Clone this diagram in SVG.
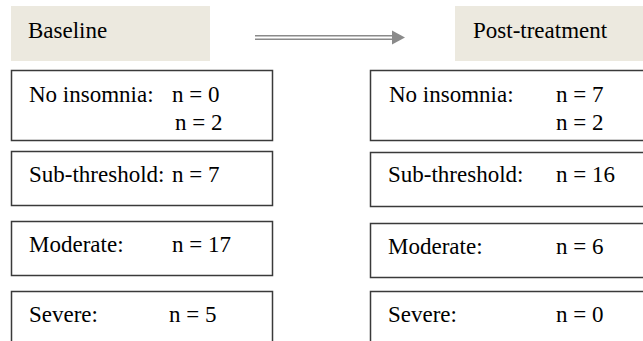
<svg xmlns="http://www.w3.org/2000/svg" width="643" height="341" viewBox="0 0 643 341" font-family="'Liberation Serif', 'Times New Roman', Times, 'DejaVu Serif', serif" font-size="23">
<style>
.hdr{fill:#ece9df;stroke:none}
.box{fill:#fff;stroke:#3a3a3a;stroke-width:1.5}
.t{font-family:'Liberation Serif','Times New Roman',Times,'DejaVu Serif',serif;font-size:23px;fill:#000}
.arr{stroke:#8a8a8a;stroke-width:1.4;fill:none}
</style>
<rect width="643" height="341" fill="#fff"/>
<g id="baseline-header"><rect class="hdr" x="11" y="6" width="199" height="55"/><text class="t" x="28" y="38">Baseline</text></g>
<g id="post-header"><rect class="hdr" x="455" y="6" width="200" height="55"/><text class="t" x="473" y="38">Post-treatment</text></g>
<g id="connectors">
<line class="arr" x1="255" y1="35.8" x2="393" y2="35.8"/>
<line class="arr" x1="255" y1="39.2" x2="393" y2="39.2"/>
<polygon points="392,30.5 405,37.5 392,44.5" fill="#8a8a8a"/>
</g>
<g id="b-none"><rect class="box" x="11.5" y="70.5" width="261" height="70"/><text class="t" x="29" y="102">No insomnia:</text><text class="t" x="172" y="102">n = 0</text><text class="t" x="175" y="130">n = 2</text></g>
<g id="b-sub"><rect class="box" x="11.5" y="151.5" width="261" height="54"/><text class="t" x="29" y="182">Sub-threshold:</text><text class="t" x="172" y="182">n = 7</text></g>
<g id="b-mod"><rect class="box" x="11.5" y="221.5" width="261" height="54"/><text class="t" x="29" y="252">Moderate:</text><text class="t" x="172" y="252">n = 17</text></g>
<g id="b-sev"><rect class="box" x="11.5" y="291.5" width="261" height="60"/><text class="t" x="29" y="322">Severe:</text><text class="t" x="169" y="322">n = 5</text></g>
<g id="p-none"><rect class="box" x="370.5" y="70.5" width="290" height="70"/><text class="t" x="389" y="102">No insomnia:</text><text class="t" x="556" y="102">n = 7</text><text class="t" x="556" y="130">n = 2</text></g>
<g id="p-sub"><rect class="box" x="370.5" y="152.5" width="290" height="54"/><text class="t" x="388" y="182">Sub-threshold:</text><text class="t" x="556" y="182">n = 16</text></g>
<g id="p-mod"><rect class="box" x="370.5" y="223.5" width="290" height="54"/><text class="t" x="388" y="254">Moderate:</text><text class="t" x="556" y="254">n = 6</text></g>
<g id="p-sev"><rect class="box" x="370.5" y="291.5" width="290" height="60"/><text class="t" x="388" y="322">Severe:</text><text class="t" x="556" y="322">n = 0</text></g>
</svg>
